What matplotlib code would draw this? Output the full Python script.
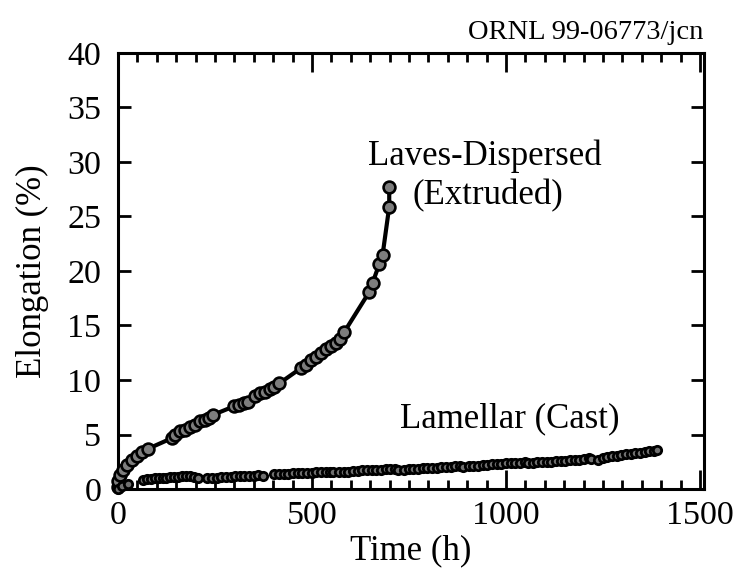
import matplotlib
matplotlib.use("Agg")
import matplotlib.pyplot as plt
from matplotlib.ticker import MultipleLocator

plt.rcParams['font.family'] = ['Liberation Serif', 'DejaVu Serif']

# Laves-Dispersed (Extruded)
laves_t = [0, 1, 5, 14, 22, 35, 48, 61, 78,
           138, 146, 159, 172, 185, 198, 211, 224, 235, 245,
           300, 313, 325, 335, 352, 365, 378, 391, 403, 416,
           472, 485, 498, 511, 523, 536, 549, 562, 571, 583,
           648, 656, 673, 682, 699, 699]
laves_e = [0.2, 0.7, 1.3, 1.7, 2.2, 2.7, 3.0, 3.4, 3.7,
           4.65, 5.0, 5.3, 5.4, 5.7, 5.9, 6.2, 6.3, 6.5, 6.8,
           7.6, 7.7, 7.9, 8.0, 8.5, 8.8, 8.9, 9.2, 9.4, 9.7,
           11.1, 11.4, 11.8, 12.1, 12.5, 12.8, 13.1, 13.4, 13.8, 14.4,
           18.1, 18.9, 20.6, 21.5, 25.9, 27.7]

# Lamellar (Cast)
lam_t = [0, 10, 27,
         65, 75, 85, 95, 105, 115, 125, 135, 145, 155, 165, 175, 185, 195, 205,
         230, 242, 254, 266, 278, 290, 302, 314, 326, 338, 350, 362, 374,
         403, 415, 427, 439, 451, 463, 475, 487, 499, 511, 523, 535, 547, 554,
         570, 582, 594, 606, 618, 630, 642, 654, 666, 678, 690, 702, 714, 722,
         737, 749, 761, 773, 785, 797, 809, 821, 833, 845, 857, 869, 881, 889,
         904, 916, 928, 940, 952, 964, 976, 988, 1000, 1012, 1024, 1036, 1048, 1056,
         1069, 1081, 1093, 1105, 1117, 1129, 1141, 1153, 1165, 1177, 1189, 1201, 1213, 1218,
         1237, 1249, 1261, 1273, 1285, 1297, 1309, 1321, 1333, 1345, 1357, 1369, 1381, 1389]
lam_e = [0.0, 0.3, 0.5,
         0.8, 0.9, 0.95, 1.0, 1.0, 1.05, 1.05, 1.1, 1.1, 1.1, 1.15, 1.15, 1.2, 1.1, 1.0,
         1.0, 1.05, 1.05, 1.1, 1.1, 1.1, 1.15, 1.15, 1.2, 1.2, 1.2, 1.25, 1.2,
         1.35, 1.35, 1.4, 1.4, 1.45, 1.45, 1.5, 1.5, 1.5, 1.55, 1.55, 1.6, 1.6, 1.55,
         1.55, 1.6, 1.6, 1.65, 1.65, 1.7, 1.7, 1.7, 1.75, 1.75, 1.8, 1.8, 1.8, 1.75,
         1.75, 1.8, 1.8, 1.85, 1.9, 1.9, 1.95, 1.95, 2.0, 2.0, 2.05, 2.1, 2.1, 2.05,
         2.1, 2.15, 2.15, 2.2, 2.2, 2.25, 2.3, 2.3, 2.35, 2.35, 2.4, 2.4, 2.45, 2.4,
         2.4, 2.45, 2.45, 2.5, 2.5, 2.55, 2.6, 2.6, 2.65, 2.7, 2.7, 2.75, 2.8, 2.75,
         2.7, 2.85, 2.9, 3.0, 3.0, 3.1, 3.2, 3.2, 3.3, 3.3, 3.4, 3.45, 3.5, 3.55]

fig = plt.figure(figsize=(7.41, 5.71), dpi=100)
ax = fig.add_axes([0.1592, 0.1436, 0.7908, 0.7636])

ax.plot(laves_t, laves_e, '-', color='black', lw=3.0, marker='o', ms=8.5,
        mfc='#7d7d7d', mec='black', mew=1.9, clip_on=False, zorder=3)
ax.plot(lam_t, lam_e, linestyle='none', marker='o', ms=6.0,
        mfc='#707070', mec='black', mew=2.0, clip_on=False, zorder=3)

ax.set_xlim(0, 1510)
ax.set_ylim(0, 40)
ax.xaxis.set_major_locator(MultipleLocator(500))
ax.xaxis.set_minor_locator(MultipleLocator(50))
ax.yaxis.set_major_locator(MultipleLocator(5))

ax.tick_params(axis='both', which='both', direction='in', top=True, right=True,
               labelsize=24.5, colors='black')
ax.tick_params(axis='x', which='major', length=14, width=2.0, pad=8)
ax.tick_params(axis='x', which='minor', length=6.5, width=2.0)
ax.tick_params(axis='y', which='major', length=9.5, width=2.0, pad=12)
for s in ax.spines.values():
    s.set_linewidth(2.2)

ax.set_xlabel('Time (h)', fontsize=25, labelpad=3)
ax.set_ylabel('Elongation (%)', fontsize=25, labelpad=13)

ax.text(644, 29.7, 'Laves-Dispersed', fontsize=25, ha='left', va='baseline')
ax.text(758, 26.1, '(Extruded)', fontsize=25, ha='left', va='baseline')
ax.text(727, 5.7, 'Lamellar (Cast)', fontsize=25, ha='left', va='baseline')

fig.text(0.949, 1 - 39 / 571, 'ORNL 99-06773/jcn', fontsize=20.5,
         ha='right', va='baseline')

fig.savefig('out.png', dpi=100)
